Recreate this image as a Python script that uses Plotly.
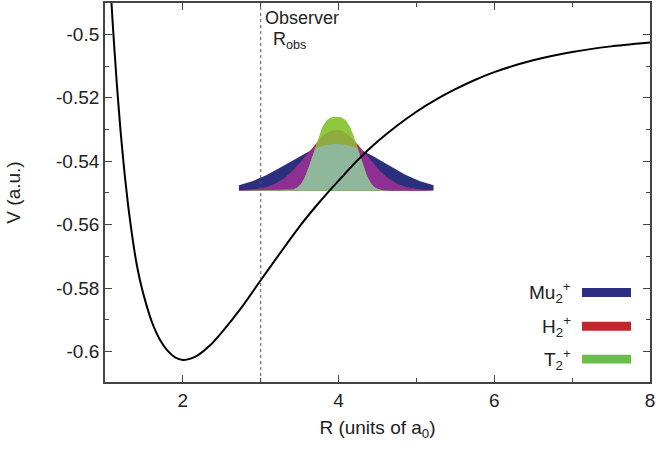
import numpy as np
import plotly.graph_objects as go

# Potential curve V(R)
R_vals = [1.00, 1.05, 1.10, 1.15, 1.20, 1.25, 1.30, 1.35, 1.40, 1.45, 1.50, 1.60, 1.70,
          1.80, 1.90, 2.00, 2.10, 2.20, 2.35, 2.50, 2.75, 3.00, 3.25, 3.50, 3.75,
          4.00, 4.25, 4.50, 4.75, 5.00, 5.25, 5.50, 5.75, 6.00, 6.50, 7.00, 7.50, 8.00]
V_vals = [-0.4518, -0.4760, -0.4970, -0.5150, -0.5305, -0.5435, -0.5545, -0.5637,
          -0.5715, -0.5776, -0.5825, -0.5905, -0.5960, -0.5996, -0.6018, -0.6026,
          -0.6022, -0.6010, -0.5980, -0.5939, -0.5862, -0.5775, -0.5689, -0.5605,
          -0.5530, -0.5461, -0.5395, -0.5338, -0.5288, -0.5244, -0.5206, -0.5173,
          -0.5144, -0.5119, -0.5082, -0.5056, -0.5038, -0.5026]

R_obs = 3.0

# Wave-packet sketches (centre, baseline, half-span, and per-species height/width/shape)
species = ["Mu<sub>2</sub><sup>+</sup>", "H<sub>2</sub><sup>+</sup>", "T<sub>2</sub><sup>+</sup>"]
packet_center = 3.97
packet_base = -0.5492
packet_halfspan = 1.25
packet_height = [0.0147, 0.0191, 0.0232]
packet_width = [0.60, 0.372, 0.266]
packet_power = [2, 2, 3]

legend_colors = ["#2a2f83", "#c1272d", "#6abf4b"]

x_ticks = [2, 4, 6, 8]
y_ticks = [-0.5, -0.52, -0.54, -0.56, -0.58, -0.6]
y_ticktext = ["-0.5", "-0.52", "-0.54", "-0.56", "-0.58", "-0.6"]

FONT = "Liberation Sans, Arial, sans-serif"

fig = go.Figure()

xs = np.linspace(packet_center - packet_halfspan, packet_center + packet_halfspan, 401)
prof = []
for h, s, p in zip(packet_height, packet_width, packet_power):
    prof.append(h * np.exp(-0.5 * np.abs((xs - packet_center) / s) ** p))
blue, red, green = prof


def add_region(height, color):
    px = np.concatenate([xs, xs[::-1]])
    py = np.concatenate([packet_base + height, np.full_like(xs, packet_base)])
    fig.add_trace(go.Scatter(x=px, y=py, fill="toself", fillcolor=color, mode="lines",
                             line=dict(width=0, color=color), hoverinfo="skip",
                             showlegend=False))


add_region(blue, "#2c2f7d")
add_region(red, "#a8343a")
add_region(np.minimum(red, blue), "#8e2f93")
add_region(green, "#8fc73e")
add_region(np.minimum(green, red), "#8dab3e")
add_region(np.minimum(np.minimum(green, red), blue), "#8fb79c")

fig.add_trace(go.Scatter(x=R_vals, y=V_vals, mode="lines",
                         line=dict(color="black", width=2, shape="spline", smoothing=0.5),
                         hoverinfo="skip", showlegend=False))

fig.add_shape(type="line", xref="x", yref="paper", x0=R_obs, x1=R_obs, y0=0, y1=1,
              line=dict(color="#555", width=1, dash="dot"))

fig.add_annotation(x=R_obs, y=1, xref="x", yref="paper", text="Observer", showarrow=False,
                   xanchor="left", yanchor="top", xshift=2, yshift=-3,
                   font=dict(family=FONT, size=18, color="#222"))
fig.add_annotation(x=R_obs, y=1, xref="x", yref="paper", text="R<sub>obs</sub>", showarrow=False,
                   xanchor="left", yanchor="top", xshift=10, yshift=-24,
                   font=dict(family=FONT, size=18, color="#222"))

# Legend
L, Rr, T, B = 105, 650, 1, 382
W, H = Rr - L, B - T
row_y = [292, 326, 359]
for name, col, yp in zip(species, legend_colors, row_y):
    yc = (B - yp) / H
    fig.add_shape(type="rect", xref="paper", yref="paper",
                  x0=(582 - L) / W, x1=(631 - L) / W,
                  y0=yc - 4.5 / H, y1=yc + 4.5 / H,
                  fillcolor=col, line=dict(width=0))
    fig.add_annotation(x=(573 - L) / W, y=yc, xref="paper", yref="paper", text=name,
                       showarrow=False, xanchor="right", yanchor="middle",
                       font=dict(family=FONT, size=19, color="#222"))

axis_common = dict(showline=True, linecolor="#444", linewidth=1.8, mirror="ticks",
                   ticks="inside", ticklen=7, tickwidth=1, tickcolor="#444",
                   showgrid=False, zeroline=False,
                   tickfont=dict(family=FONT, size=19, color="#222"))

fig.update_layout(
    width=656, height=449,
    margin=dict(l=L, r=656 - Rr, t=T, b=449 - B),
    paper_bgcolor="white", plot_bgcolor="white",
    xaxis=dict(range=[1, 8], tickvals=x_ticks, ticktext=[str(t) for t in x_ticks],
               minor=dict(dtick=1, ticks="inside", ticklen=4, tickcolor="#444", showgrid=False),
               title=dict(text="R (units of a<sub>0</sub>)", standoff=11,
                          font=dict(family=FONT, size=19, color="#222")),
               **axis_common),
    yaxis=dict(range=[-0.60956, -0.49013], tickvals=y_ticks, ticktext=y_ticktext,
               minor=dict(dtick=0.01, tick0=-0.6, ticks="inside", ticklen=4, tickcolor="#444",
                          showgrid=False),
               title=dict(text="V (a.u.)", standoff=30,
                          font=dict(family=FONT, size=19, color="#222")),
               **axis_common),
    showlegend=False,
)

fig.write_html("out.html")
